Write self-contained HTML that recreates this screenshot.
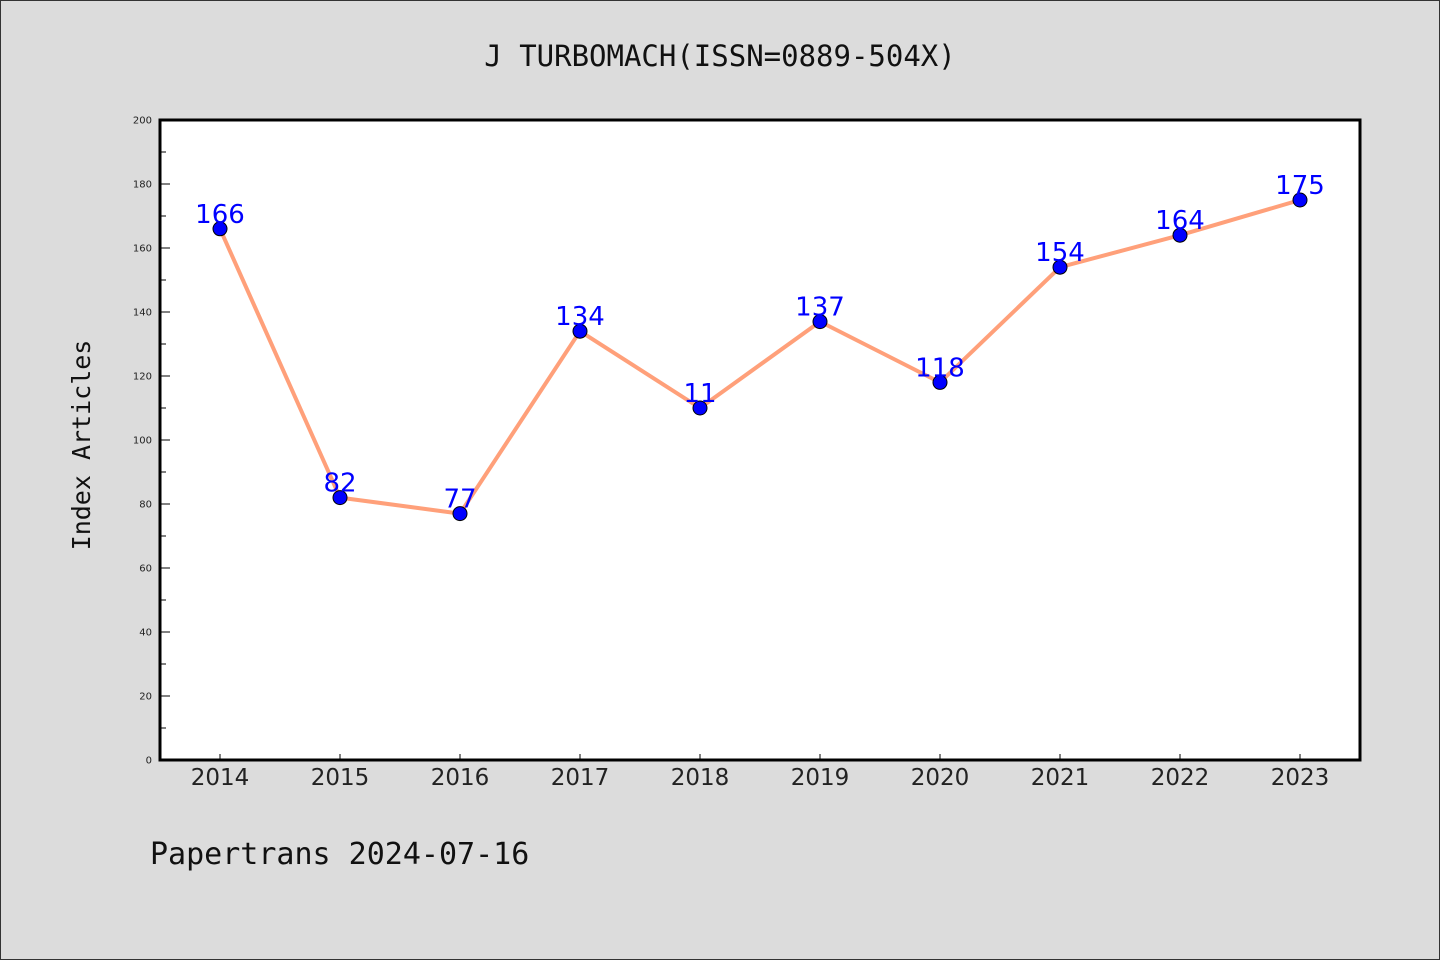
<!DOCTYPE html>
<html><head><meta charset="utf-8"><style>
html,body{margin:0;padding:0;background:#dcdcdc;}
svg{display:block;}
</style></head><body>
<svg id="chart" width="1440" height="960" xmlns="http://www.w3.org/2000/svg">
<rect x="0.5" y="0.5" width="1439" height="959" fill="#dcdcdc" stroke="#333" stroke-width="1"/>
<text x="720" y="66" text-anchor="middle" font-family="'WenQuanYi Zen Hei','DejaVu Sans Mono',monospace" font-size="29" fill="#111">J TURBOMACH(ISSN=0889-504X)</text>
<rect x="160" y="120" width="1200" height="640" fill="#fff"/>
<g id="yaxis"></g>
<g id="xaxis"></g>
<g id="series"></g>
<rect x="160" y="120" width="1200" height="640" fill="none" stroke="#000" stroke-width="3"/>
<text transform="translate(90,445) rotate(-90)" text-anchor="middle" font-family="'WenQuanYi Zen Hei','DejaVu Sans Mono',monospace" font-size="25" fill="#111">Index Articles</text>
<text x="150" y="864" font-family="'WenQuanYi Zen Hei','DejaVu Sans Mono',monospace" font-size="30" fill="#111">Papertrans 2024-07-16</text>
</svg>
<script>
const categories = ["2014","2015","2016","2017","2018","2019","2020","2021","2022","2023"];
const values = [166,82,77,134,110,137,118,154,164,175];
const valueLabels = ["166","82","77","134","11","137","118","154","164","175"];
const yTicks = [0,20,40,60,80,100,120,140,160,180,200];
const yMinorTicks = [10,30,50,70,90,110,130,150,170,190];

const NS="http://www.w3.org/2000/svg";
const L=160,T=120,W=1200,H=640,yMax=200;
const xs=i=>L+60+i*(W/categories.length);
const ys=v=>T+H-v/yMax*H;
function mk(tag,attrs,parent){const e=document.createElementNS(NS,tag);for(const k in attrs)e.setAttribute(k,attrs[k]);parent.appendChild(e);return e;}
const ya=document.getElementById('yaxis'),xa=document.getElementById('xaxis'),sg=document.getElementById('series');
yTicks.forEach(v=>{
  const t=mk('line',{x1:L,x2:L+10,y1:ys(v),y2:ys(v),stroke:'#000','stroke-width':1},ya);
  
  
  const tx=mk('text',{x:L-8,y:ys(v)+3.5,'text-anchor':'end','font-family':"'DejaVu Sans',sans-serif",'font-size':10,fill:'#222'},ya);
  tx.textContent=v;
  
  
});
yMinorTicks.forEach(v=>{
  const t=mk('line',{x1:L,x2:L+6,y1:ys(v),y2:ys(v),stroke:'#000','stroke-width':1},ya);
  
  
});
categories.forEach((c,i)=>{
  const t=mk('line',{x1:xs(i),x2:xs(i),y1:T+H,y2:T+H-6,stroke:'#000','stroke-width':1},xa);
  
  
  const tx=mk('text',{x:xs(i),y:T+H+25,'text-anchor':'middle','font-family':"'WenQuanYi Zen Hei','DejaVu Sans',sans-serif",'font-size':23,fill:'#222'},xa);
  tx.textContent=c;
  
  
});
const pl=mk('polyline',{points:values.map((v,i)=>xs(i)+','+ys(v)).join(' '),fill:'none',stroke:'#ffa07a','stroke-width':4,'stroke-linejoin':'round'},sg);


values.forEach((v,i)=>{
  const c=mk('circle',{cx:xs(i),cy:ys(v),r:7,fill:'#0000ff',stroke:'#000','stroke-width':1},sg);
  
  
});
values.forEach((v,i)=>{
  const tx=mk('text',{x:xs(i),y:ys(v)-6,'text-anchor':'middle','font-family':"'DejaVu Sans',sans-serif",'font-size':26,fill:'#0000ff'},sg);
  tx.textContent=valueLabels[i];
  
  
});
</script>
</body></html>
